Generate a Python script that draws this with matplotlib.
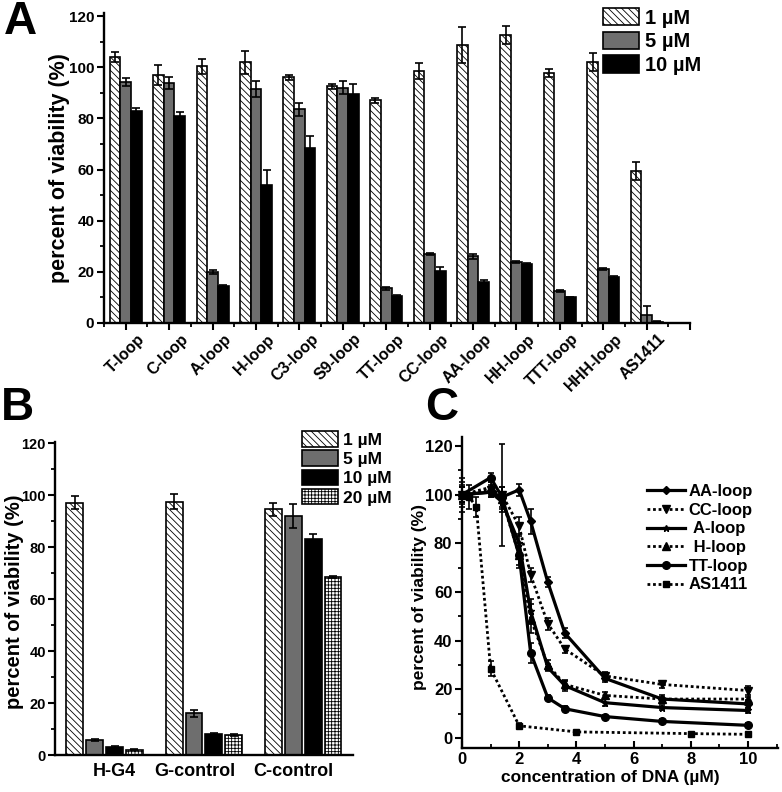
import numpy as np
import matplotlib
matplotlib.use("Agg")
import matplotlib.pyplot as plt
import matplotlib.transforms as mtransforms
from matplotlib.ticker import MultipleLocator

plt.rcParams['font.family'] = ['Liberation Sans', 'DejaVu Sans']
plt.rcParams['font.weight'] = 'bold'
plt.rcParams['axes.labelweight'] = 'bold'
plt.rcParams['hatch.linewidth'] = 0.6
plt.rcParams['axes.linewidth'] = 1.7

# ---- panel A data ----
loops_a = ['T-loop', 'C-loop', 'A-loop', 'H-loop', 'C3-loop', 'S9-loop', 'TT-loop',
           'CC-loop', 'AA-loop', 'HH-loop', 'TTT-loop', 'HHH-loop', 'AS1411']
a_1uM = [104, 97, 100.3, 102, 96, 92.5, 87, 98.5, 108.7, 112.6, 97.7, 102, 59.5]
a_1uM_err = [2, 4, 3, 4.5, 1, 1, 1, 3, 7, 3.5, 1.5, 3.5, 3.5]
a_5uM = [94.3, 93.8, 20, 91.5, 83.5, 92, 13.5, 27, 26, 23.8, 12.5, 21, 3.1]
a_5uM_err = [1.5, 2.5, 0.7, 3, 2.5, 2.5, 0.5, 0.5, 1, 0.5, 0.3, 0.3, 3.5]
a_10uM = [83, 81, 14.5, 54, 68.5, 89.5, 10.5, 20.5, 16, 23, 10, 18, 0.5]
a_10uM_err = [1, 1.5, 0.5, 6, 4.5, 4, 0.3, 1.5, 0.8, 0.5, 0.3, 0.3, 0.2]

# ---- panel B data ----
groups_b = ['H-G4', 'G-control', 'C-control']
b_1uM = [97, 97.5, 94.5]
b_1uM_err = [2.5, 3, 2.5]
b_5uM = [5.8, 16, 92]
b_5uM_err = [0.4, 1.5, 4.5]
b_10uM = [3, 8, 83]
b_10uM_err = [0.3, 0.5, 2]
b_20uM = [2, 7.8, 68.5]
b_20uM_err = [0.2, 0.3, 0.5]

# ---- panel C data ----
conc = [0, 1, 1.4, 2, 2.4, 3, 3.6, 5, 7, 10]
aa_loop = [100, 101, 99, 102, 89, 64, 43, 24.5, 16, 14]
aa_err = [3, 2, 4, 2.5, 5, 2, 2, 1.5, 1.5, 1.5]
cc_loop = [100, 102, 100, 87, 67, 47, 36.5, 25.5, 22, 19.5]
cc_err = [4, 2, 21, 4, 3, 2.5, 1.5, 1.5, 1.5, 2]
a_loop = [100, 101, 97, 80, 52, 29, 21.5, 14.5, 12.5, 11.3]
a_err = [3, 2, 3, 4, 5, 1.5, 2, 1.5, 1, 1]
h_loop = [100, 103, 98, 75, 49, 30, 22, 17.5, 16, 16]
h_err = [3, 2, 5, 5, 6, 2, 2, 1.5, 1, 1]
tt_loop = [100, 107, 99, 75, 35, 16.5, 12, 8.8, 6.8, 5.2]
tt_err = [7, 2, 2, 4, 4, 1, 1, 0.8, 0.8, 0.8]
conc_as = [0, 0.25, 0.5, 1, 2, 4, 8, 10]
as1411 = [100, 99, 95, 28.5, 5, 2.5, 1.8, 1.5]
as_err = [5, 5, 4, 3, 1, 0.5, 0.5, 0.5]

fig = plt.figure(figsize=(7.82, 7.92), dpi=100)

styles = [dict(facecolor='white', hatch='\\\\\\\\\\'),
          dict(facecolor='#6e6e6e'),
          dict(facecolor='black'),
          dict(facecolor='white', hatch='+++++')]
ebar = dict(ecolor='black', elinewidth=1.2, capsize=3, capthick=1.2)


def style_axes(ax, size):
    for s in ['top', 'right']:
        ax.spines[s].set_visible(False)
    ax.tick_params(direction='out', width=1.5, length=5, labelsize=size)
    ax.tick_params(which='minor', direction='out', width=1.3, length=3)


# ================= A =================
axA = fig.add_axes([0.133, 0.5922, 0.7494, 0.3914])
xa = np.arange(len(loops_a)) + 0.5
w = 0.246
vals = [(a_1uM, a_1uM_err, '1 µM'), (a_5uM, a_5uM_err, '5 µM'), (a_10uM, a_10uM_err, '10 µM')]
for k, (v, e, lab) in enumerate(vals):
    axA.bar(xa + (k - 1) * w, v, w, yerr=e, edgecolor='black', linewidth=1.2,
            label=lab, error_kw=ebar, **styles[k])
axA.set_xlim(0, 13.5)
axA.set_ylim(0, 121.2)
axA.yaxis.set_major_locator(MultipleLocator(20))
axA.yaxis.set_minor_locator(MultipleLocator(10))
axA.set_xticks(list(xa) + [13.5], loops_a + [''])
axA.set_xticks(np.arange(0, 14), minor=True)
style_axes(axA, 11)
axA.tick_params(axis='y', pad=2)
axA.tick_params(axis='x', labelsize=11.5, pad=1)
shift = mtransforms.ScaledTranslation(8 / 72, 0, fig.dpi_scale_trans)
for t in axA.get_xticklabels():
    t.set_rotation(45)
    t.set_ha('right')
    t.set_va('top')
    t.set_rotation_mode('anchor')
    t.set_transform(t.get_transform() + shift)
axA.set_ylabel('percent of viability (%)', fontsize=15.5)
axA.yaxis.set_label_coords(-0.058, 0.5)
axA.legend(loc='upper left', bbox_to_anchor=(603 / 782, 1 - 8 / 792),
           bbox_transform=fig.transFigure, frameon=False, fontsize=14.5,
           handlelength=1.8, handleheight=0.95, handletextpad=0.3,
           labelspacing=0.2, borderpad=0, borderaxespad=0)

# ================= B =================
axB = fig.add_axes([0.0703, 0.0467, 0.381, 0.3952])
xb = np.arange(len(groups_b))
wb = 0.17
stepb = 0.2
valsb = [(b_1uM, b_1uM_err, '1 µM'), (b_5uM, b_5uM_err, '5 µM'),
         (b_10uM, b_10uM_err, '10 µM'), (b_20uM, b_20uM_err, '20 µM')]
for k, (v, e, lab) in enumerate(valsb):
    axB.bar(xb + (k - 1.5) * stepb, v, wb, yerr=e, edgecolor='black', linewidth=1.2,
            label=lab, error_kw=ebar, **styles[k])
axB.set_xlim(-0.5, 2.5)
axB.set_ylim(0, 120.4)
axB.yaxis.set_major_locator(MultipleLocator(20))
axB.yaxis.set_minor_locator(MultipleLocator(10))
axB.set_xticks(xb, groups_b)
style_axes(axB, 10.5)
axB.tick_params(axis='y', pad=1.5)
axB.tick_params(axis='x', length=0, labelsize=13, pad=6)
for t, dx in zip(axB.get_xticklabels(), [10, -9, -10]):
    t.set_transform(t.get_transform() + mtransforms.ScaledTranslation(dx / 100, 0, fig.dpi_scale_trans))
axB.set_ylabel('percent of viability (%)', fontsize=14.5)
axB.yaxis.set_label_coords(-0.104, 0.49)
axB.legend(loc='upper left', bbox_to_anchor=(302 / 782, 1 - 431 / 792),
           bbox_transform=fig.transFigure, frameon=False, fontsize=12.5,
           handlelength=2.1, handleheight=1.0, handletextpad=0.25,
           labelspacing=0.15, borderpad=0, borderaxespad=0)

# ================= C =================
axC = fig.add_axes([0.5908, 0.0556, 0.4041, 0.3927])
solid = dict(linestyle='-', linewidth=2.3)
dotted = dict(linestyle=(0, (1, 1)), linewidth=2.0)
series = [(conc, aa_loop, aa_err, 'AA-loop', 'D', 4, solid),
          (conc, cc_loop, cc_err, 'CC-loop', 'v', 6, dotted),
          (conc, a_loop, a_err, ' A-loop', '*', 5, solid),
          (conc, h_loop, h_err, ' H-loop', '^', 6, dotted),
          (conc, tt_loop, tt_err, 'TT-loop', 'o', 5.5, solid),
          (conc_as, as1411, as_err, 'AS1411', 's', 5, dotted)]
for x, y, e, lab, m, ms, ls in series:
    axC.errorbar(x, y, yerr=e, fmt='none', ecolor='black', elinewidth=1.2,
                 capsize=2.5, capthick=1.2, clip_on=False)
    axC.plot(x, y, color='black', marker=m, markersize=ms, label=lab,
             clip_on=False, **ls)
axC.set_xlim(0, 11.05)
axC.set_ylim(-4.1, 123.7)
axC.xaxis.set_major_locator(MultipleLocator(2))
axC.xaxis.set_minor_locator(MultipleLocator(1))
axC.yaxis.set_major_locator(MultipleLocator(20))
axC.yaxis.set_minor_locator(MultipleLocator(10))
style_axes(axC, 12)
axC.tick_params(axis='y', pad=2)
axC.tick_params(axis='x', which='both', direction='in', pad=3)
axC.set_ylabel('percent of viability (%)', fontsize=12.5)
axC.yaxis.set_label_coords(-0.11, 0.486)
axC.set_xlabel('concentration of DNA (µM)', fontsize=12.5)
axC.xaxis.set_label_coords(0.47, -0.07)
axC.legend(loc='upper left', bbox_to_anchor=(647 / 782, 1 - 484 / 792),
           bbox_transform=fig.transFigure, frameon=False, fontsize=12,
           handlelength=2.3, handletextpad=0.2, labelspacing=0.22,
           borderpad=0, borderaxespad=0)

# panel letters
fig.text(4 / 782, 1 - 0 / 792, 'A', fontsize=33, fontweight='bold', va='top', ha='left')
fig.text(1 / 782, 1 - 386 / 792, 'B', fontsize=33, fontweight='bold', va='top', ha='left')
fig.text(425 / 782, 1 - 386 / 792, 'C', fontsize=33, fontweight='bold', va='top', ha='left')

fig.savefig('out.png', dpi=100)
